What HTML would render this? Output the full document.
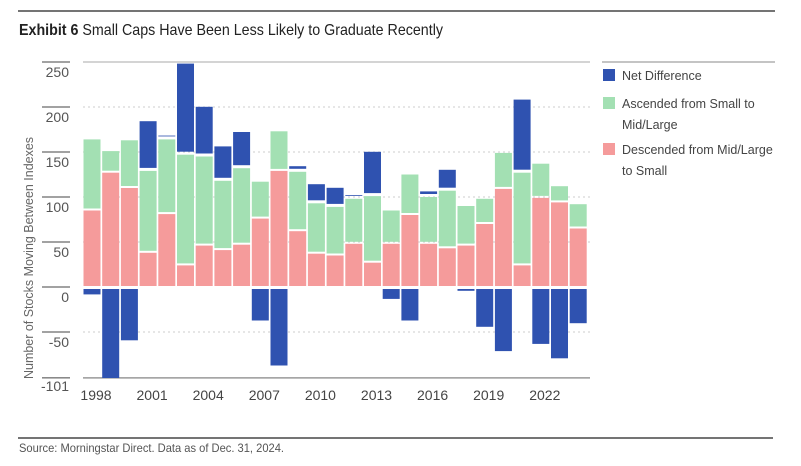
<!DOCTYPE html>
<html><head><meta charset="utf-8"><style>
body{margin:0;background:#fff;width:801px;height:466px;overflow:hidden}
svg{display:block;font-family:"Liberation Sans",sans-serif}
</style></head><body>
<svg id="c" width="801" height="466">
<line x1="18" y1="11" x2="775" y2="11" stroke="#222" stroke-width="1.2"/>
<text x="19" y="35" font-size="16" textLength="424" lengthAdjust="spacingAndGlyphs" fill="#222"><tspan font-weight="bold">Exhibit 6</tspan>  Small Caps Have Been Less Likely to Graduate Recently</text>
<text transform="translate(33,258) rotate(-90)" text-anchor="middle" font-size="13" fill="#666" textLength="242" lengthAdjust="spacingAndGlyphs">Number of Stocks Moving Between Indexes</text>
<g id="grid"></g><g id="bars"></g><g id="xl"></g>
<line x1="602" y1="62" x2="775" y2="62" stroke="#888"/>
<g font-size="12.5" fill="#444">
<rect x="603" y="69" width="12" height="12" fill="#2f52b0"/>
<text x="622" y="80">Net Difference</text>
<rect x="603" y="97" width="12" height="12" fill="#a3e0b3"/>
<text x="622" y="108">Ascended from Small to</text>
<text x="622" y="129">Mid/Large</text>
<rect x="603" y="143" width="12" height="12" fill="#f59b9b"/>
<text x="622" y="154">Descended from Mid/Large</text>
<text x="622" y="175">to Small</text>
</g>
<line x1="18" y1="438" x2="773" y2="438" stroke="#222" stroke-width="1.2"/>
<text x="19" y="452" font-size="12" fill="#555" textLength="265" lengthAdjust="spacingAndGlyphs">Source: Morningstar Direct. Data as of Dec. 31, 2024.</text>
</svg>
<script>
const years=[1998,1999,2000,2001,2002,2003,2004,2005,2006,2007,2008,2009,2010,2011,2012,2013,2014,2015,2016,2017,2018,2019,2020,2021,2022,2023,2024];
const descended=[85,127,110,38,81,24,46,41,47,76,129,62,37,35,48,27,48,80,48,43,46,70,109,24,99,94,65];
const ascended=[79,24,53,91,83,123,99,77,85,41,44,66,56,54,50,74,37,45,52,64,44,28,40,103,38,18,27];
const netDiff=[-6,-103,-57,53,2,99,53,36,38,-35,-85,4,19,19,2,47,-11,-35,4,21,-2,-42,-69,79,-61,-77,-38];
const yTicks=[250,200,150,100,50,0,-50,-101];
const xTickLabels=["1998","2001","2004","2007","2010","2013","2016","2019","2022"];
const NS="http://www.w3.org/2000/svg";
const Y0=287,K=0.9,X0=83.5,P=18.7,BW=17;
const y=v=>Y0-v*K, x=i=>X0+i*P;
function mk(t,a,p){const e=document.createElementNS(NS,t);for(const k in a)e.setAttribute(k,a[k]);p.appendChild(e);return e;}
const grid=document.getElementById('grid'),bars=document.getElementById('bars'),xl=document.getElementById('xl');
yTicks.forEach((v,i)=>{
 const yy=y(v);
 const l=mk('line',{x1:42,x2:70,y1:yy,y2:yy,stroke:'#444'},grid);
 
 
 if(i>0&&v!==0&&i<yTicks.length-1){const g=mk('line',{x1:83,x2:590,y1:yy,y2:yy,stroke:'#ccc','stroke-dasharray':'2,3'},grid);
  
  }
 const t=mk('text',{x:69,y:yy+(v===-101?13:15),'text-anchor':'end','font-size':14,fill:'#555'},grid);
 t.textContent=String(v);
 
 
});
const topLine=mk('line',{x1:83,x2:590,y1:y(250),y2:y(250),stroke:'#aaa'},grid);


const ax=mk('line',{x1:83,x2:590,y1:y(-101),y2:y(-101),stroke:'#999','stroke-width':1.5},grid);


years.forEach((yr,i)=>{
 const d=descended[i],a=ascended[i],n=netDiff[i],xx=x(i);
 const r1=mk('rect',{x:xx,y:y(d),width:BW,height:d*K-1,fill:'#f59b9b'},bars);
 
 
 const r2=mk('rect',{x:xx,y:y(d+a),width:BW,height:Math.max(0,a*K-2),fill:'#a3e0b3'},bars);
 
 
 let r3;
 if(n>=0) r3=mk('rect',{x:xx,y:y(d+a+n)-2,width:BW,height:Math.max(0.5,n*K-1),fill:'#2f52b0'},bars);
 else r3=mk('rect',{x:xx,y:Y0+2,width:BW,height:Math.min(-n*K,91-2),fill:'#2f52b0'},bars);
 
 
});
xTickLabels.forEach(lb=>{
 const i=years.indexOf(+lb);
 const t=mk('text',{x:x(i)+BW/2+4,y:400,'text-anchor':'middle','font-size':14,fill:'#444'},xl);
 t.textContent=lb;
 
 
});
</script>
</body></html>
